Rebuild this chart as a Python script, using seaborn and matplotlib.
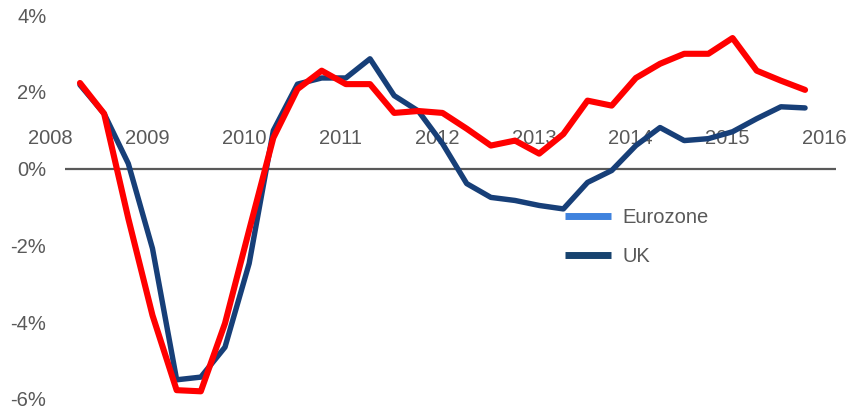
import pandas as pd
import matplotlib
matplotlib.use("Agg")
import matplotlib.pyplot as plt
import seaborn as sns
from matplotlib.lines import Line2D

# quarterly growth, % y/y
quarters = pd.period_range("2008Q2", periods=31, freq="Q")
uk = [2.18, 1.43, 0.13, -2.08, -5.5, -5.43, -4.65, -2.47, 0.99, 2.2, 2.36,
      2.36, 2.86, 1.9, 1.5, 0.65, -0.39, -0.75, -0.83, -0.96, -1.05, -0.36,
      -0.05, 0.6, 1.07, 0.73, 0.78, 0.96, 1.3, 1.61, 1.58]
eurozone = [2.23, 1.43, -1.3, -3.82, -5.77, -5.8, -4.03, -1.6, 0.8, 2.07, 2.55,
            2.2, 2.2, 1.45, 1.5, 1.45, 1.04, 0.6, 0.73, 0.39, 0.9, 1.77,
            1.64, 2.36, 2.73, 2.99, 2.99, 3.4, 2.55, 2.29, 2.05]
years = [2008, 2009, 2010, 2011, 2012, 2013, 2014, 2015, 2016]
yticks = [-6, -4, -2, 0, 2, 4]

x = [q.year + (q.quarter - 1) / 4 for q in quarters]
df = pd.DataFrame({"x": x, "UK": uk, "Eurozone": eurozone})

sns.set_style("white")
plt.rcParams["font.family"] = ["Liberation Sans", "DejaVu Sans"]
grey = "#595959"
fs = 14.5

fig = plt.figure(figsize=(8.5, 4.11), dpi=100)
ax = fig.add_axes([41.3 / 850, 0.0292, (836 - 41.3) / 850, 0.9343])

sns.lineplot(data=df, x="x", y="UK", color="#173f78", linewidth=3.9, ax=ax)
sns.lineplot(data=df, x="x", y="Eurozone", color="#ff0000", linewidth=4.4, ax=ax)

# zero line starts a little right of the first year label
ax.hlines(0, 2008.095, 2016.07, color=grey, linewidth=1.6, zorder=1)

for s in ["left", "right", "bottom", "top"]:
    ax.spines[s].set_visible(False)
ax.spines["top"].set_position(("data", 0))

ax.xaxis.tick_top()
ax.set_xticks([y - 0.055 for y in years])
ax.set_xticklabels([str(y) for y in years])
ax.tick_params(axis="x", length=0, pad=15, labelsize=fs, labelcolor=grey)

ax.set_yticks(yticks)
ax.set_yticklabels([f"{v}%" for v in yticks])
ax.tick_params(axis="y", length=0, pad=-3.6, labelsize=fs, labelcolor=grey)

ax.set_xlim(2007.85, 2016.07)
ax.set_ylim(-6, 4)
ax.set_xlabel("")
ax.set_ylabel("")

handles = [Line2D([], [], color="#3f82de", linewidth=5, solid_capstyle="butt"),
           Line2D([], [], color="#17436f", linewidth=5, solid_capstyle="butt")]
fig.legend(handles, ["Eurozone", "UK"], loc="upper left",
           bbox_to_anchor=(565 / 850, 1 - 208 / 411),
           frameon=False, fontsize=fs, labelcolor=grey, borderpad=0,
           borderaxespad=0, handlelength=2.3, handletextpad=0.55,
           labelspacing=0.98)

fig.savefig("out.png", dpi=100)
